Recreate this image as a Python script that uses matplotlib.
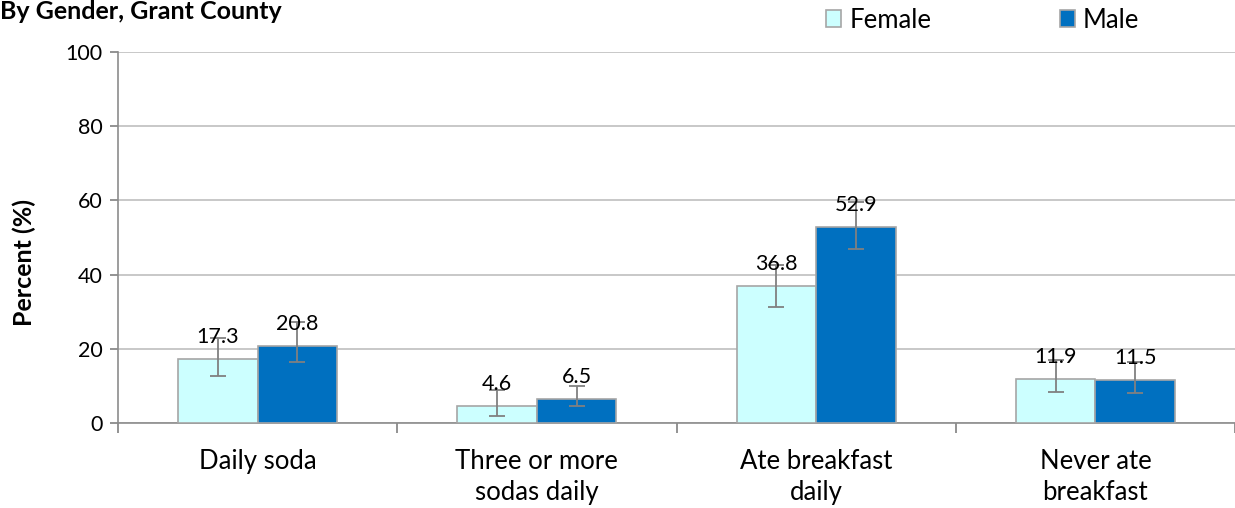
import matplotlib
matplotlib.use("Agg")
import matplotlib.pyplot as plt
from matplotlib.patches import Patch
import numpy as np

categories = ["Daily soda", "Three or more\nsodas daily", "Ate breakfast\ndaily", "Never ate\nbreakfast"]
female = [17.3, 4.6, 36.8, 11.9]
male = [20.8, 6.5, 52.9, 11.5]
female_lo = [12.7, 2.0, 31.3, 8.4]
female_hi = [22.9, 8.8, 42.6, 17.0]
male_lo = [16.4, 4.5, 46.9, 8.1]
male_hi = [27.2, 9.9, 59.6, 16.5]
yticks = [0, 20, 40, 60, 80, 100]

FONT = ["Lato", "DejaVu Sans"]
plt.rcParams['font.family'] = FONT

fig = plt.figure(figsize=(12.35, 5.08), dpi=100)
ax = fig.add_axes([118/1235, 85/508, 1117/1235, 371/508])

x = np.arange(len(categories))
w = 0.285
fc_f = "#CCFFFF"
fc_m = "#0070C0"
edge = "#A6A6A6"

f_err = [np.array(female) - np.array(female_lo), np.array(female_hi) - np.array(female)]
m_err = [np.array(male) - np.array(male_lo), np.array(male_hi) - np.array(male)]

ax.bar(x - w/2, female, w, color=fc_f, edgecolor=edge, linewidth=1.2, zorder=3)
ax.bar(x + w/2, male, w, color=fc_m, edgecolor=edge, linewidth=1.2, zorder=3)
ax.errorbar(x - w/2, female, yerr=f_err, fmt='none', ecolor="#808080", elinewidth=1.3, capsize=6, capthick=1.3, zorder=4)
ax.errorbar(x + w/2, male, yerr=m_err, fmt='none', ecolor="#808080", elinewidth=1.3, capsize=6, capthick=1.3, zorder=4)

for xi, v in zip(x - w/2, female):
    ax.annotate(f"{v:.1f}", (xi, v), xytext=(0, 11.5), textcoords="offset points",
                ha="center", va="baseline", fontsize=15.5, zorder=5)
for xi, v in zip(x + w/2, male):
    ax.annotate(f"{v:.1f}", (xi, v), xytext=(0, 11.5), textcoords="offset points",
                ha="center", va="baseline", fontsize=15.5, zorder=5)

ax.set_ylim(0, 100)
ax.set_xlim(-0.5, -0.5 + 1117/281)
ax.set_yticks(yticks)
ax.set_yticklabels([str(t) for t in yticks], fontsize=15.5)
ax.yaxis.grid(True, color="#BFBFBF", linewidth=1.2, zorder=0)
ax.set_axisbelow(True)

ax.set_xticks(np.arange(-0.5, len(categories), 1.0))
ax.set_xticklabels([])
ax.set_xticks(x, minor=True)
ax.set_xticklabels(categories, minor=True, fontsize=18.5, linespacing=1.3)
ax.tick_params(axis='x', which='minor', length=0, pad=19)
ax.tick_params(axis='x', which='major', length=7, color="#808080", width=1.2, direction='out')
ax.tick_params(axis='y', length=6, color="#808080", width=1.2, direction='out', pad=5)

for s in ["top", "right"]:
    ax.spines[s].set_visible(False)
for s in ["left", "bottom"]:
    ax.spines[s].set_color("#8C8C8C")
    ax.spines[s].set_linewidth(1.2)

fig.text(24/1235, 1 - 263/508, "Percent (%)", rotation=90, ha="center", va="center",
         fontsize=18, fontweight="bold")
fig.text(0.0, 1 - 19/508, "By Gender, Grant County", ha="left", va="baseline",
         fontsize=18, fontweight="bold")

handles = [Patch(facecolor=fc_f, edgecolor=edge, linewidth=1.2),
           Patch(facecolor=fc_m, edgecolor=edge, linewidth=1.2)]
fig.legend(handles, ["Female", "Male"], loc="center left", bbox_to_anchor=(826/1235, 1 - 20/508),
           ncol=2, frameon=False, fontsize=18.5, handlelength=0.6, handleheight=0.6,
           handletextpad=0.3, columnspacing=5.0, borderpad=0, borderaxespad=0)

fig.savefig("out.png", dpi=100)
